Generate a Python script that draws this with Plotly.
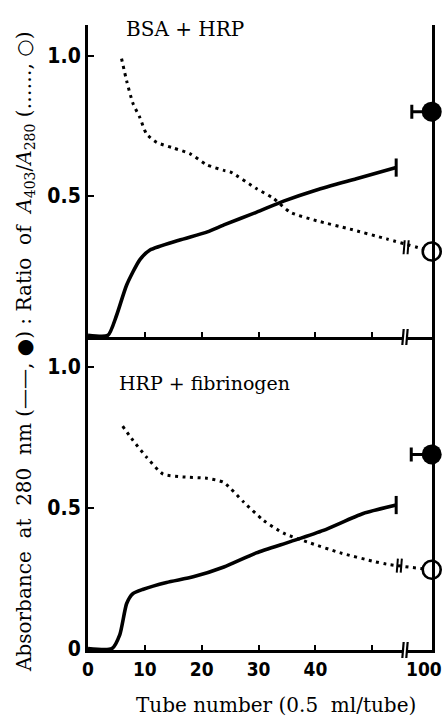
import plotly.graph_objects as go

# ---------------- data ----------------
nb = "\u00a0"
panel_labels = [f"BSA{nb}+{nb}HRP", f"HRP{nb}+{nb}fibrinogen"]

x_tick_vals = [0, 10, 20, 30, 40, 50]
x_tick_text = ["0", "10", "20", "30", "40", ""]
far_tube = 100
far_tube_label = "100"

# top panel : BSA + HRP
top_abs_tube = [0, 3.5, 5, 6.8, 9.1, 10.9, 16, 21, 23.9, 29.6, 34.4, 40.2, 47.2, 54.2]
top_abs = [0, 0, 0.07, 0.18, 0.27, 0.305, 0.34, 0.37, 0.395, 0.44, 0.48, 0.52, 0.56, 0.60]
top_ratio_tube = [5.9, 6.8, 7.9, 9.1, 10.3, 12.1, 15, 17.9, 20.9, 23.9, 25, 29.6, 32.6,
                  35.6, 40.2, 46.1, 52.5]
top_ratio = [0.99, 0.91, 0.83, 0.78, 0.72, 0.69, 0.67, 0.65, 0.61, 0.59, 0.585, 0.525,
             0.49, 0.44, 0.41, 0.38, 0.345]
top_far_abs = 0.80
top_far_ratio = 0.30
top_far_err = 3.5

# bottom panel : HRP + fibrinogen
bot_abs_tube = [0, 4.2, 5.6, 6.8, 7.9, 9.6, 13.8, 18.5, 23.9, 29.6, 35.6, 41.4, 48.4, 54.2]
bot_abs = [0, 0, 0.05, 0.16, 0.195, 0.21, 0.235, 0.255, 0.29, 0.34, 0.38, 0.42, 0.48, 0.51]
bot_ratio_tube = [6.1, 7.9, 10.3, 13.2, 16.7, 20.9, 23.9, 27.4, 30.9, 34.4, 39.1, 44.4,
                  50.2, 52.5]
bot_ratio = [0.79, 0.74, 0.68, 0.62, 0.61, 0.605, 0.59, 0.52, 0.455, 0.41, 0.375, 0.34,
             0.31, 0.30]
bot_far_abs = 0.69
bot_far_ratio = 0.28
bot_far_err = 3.6

y_tick_vals_top = [0.5, 1.0]
y_tick_text_top = ["0.5", "1.0"]
y_tick_vals_bot = [0, 0.5, 1.0]
y_tick_text_bot = ["0", "0.5", "1.0"]

# ---------------- layout helpers ----------------
X_MAX = 60.5           # right end of the compressed axis
X_FAR = 60.45          # compressed axis position of the far tube (after break)
X_BREAK = 55.4         # where the axis break is drawn


def xpos(t):
    return t if t < X_FAR else X_FAR


W, H = 448, 722
ML, MR, MT, MB = 88, 16, 25, 72
SPLIT = 0.5008

SERIF = "DejaVu Serif, Liberation Serif, serif"
SANS_B = "Liberation Sans Narrow, DejaVu Sans Condensed, Arial Narrow, sans-serif"
BLACK = "black"

fig = go.Figure()

panels = [
    dict(xa="x", ya="y", at=top_abs_tube, a=top_abs, rt=top_ratio_tube, r=top_ratio,
         fa=top_far_abs, fr=top_far_ratio, fe=top_far_err, label=panel_labels[0]),
    dict(xa="x2", ya="y2", at=bot_abs_tube, a=bot_abs, rt=bot_ratio_tube, r=bot_ratio,
         fa=bot_far_abs, fr=bot_far_ratio, fe=bot_far_err, label=panel_labels[1]),
]

for p in panels:
    # absorbance (solid)
    fig.add_trace(go.Scatter(
        x=[xpos(t) for t in p["at"]], y=p["a"], mode="lines",
        line=dict(color=BLACK, width=3.6, shape="spline", smoothing=0.6),
        xaxis=p["xa"], yaxis=p["ya"], showlegend=False, cliponaxis=False))
    # end cap of solid line
    fig.add_trace(go.Scatter(
        x=[xpos(p["at"][-1])], y=[p["a"][-1]], mode="markers",
        marker=dict(symbol="line-ns", size=13, line=dict(width=3, color=BLACK)),
        xaxis=p["xa"], yaxis=p["ya"], showlegend=False, cliponaxis=False))
    # ratio (dotted), continues to far tube
    fig.add_trace(go.Scatter(
        x=[xpos(t) for t in p["rt"]] + [xpos(far_tube)], y=p["r"] + [p["fr"]],
        mode="lines",
        line=dict(color=BLACK, width=3, dash="3px,4.5px", shape="spline", smoothing=0.6),
        xaxis=p["xa"], yaxis=p["ya"], showlegend=False, cliponaxis=False))
    # far tube filled circle (absorbance) with left error bar
    fig.add_trace(go.Scatter(
        x=[xpos(far_tube)], y=[p["fa"]], mode="markers",
        marker=dict(symbol="circle", size=20, color=BLACK),
        error_x=dict(type="data", symmetric=False, array=[0], arrayminus=[p["fe"]],
                     thickness=3, width=7, color=BLACK),
        xaxis=p["xa"], yaxis=p["ya"], showlegend=False, cliponaxis=False))
    # far tube open circle (ratio)
    fig.add_trace(go.Scatter(
        x=[xpos(far_tube)], y=[p["fr"]], mode="markers",
        marker=dict(symbol="circle", size=18, color="white",
                    line=dict(width=2.6, color=BLACK)),
        xaxis=p["xa"], yaxis=p["ya"], showlegend=False, cliponaxis=False))

# ---------------- axes ----------------
common_x = dict(range=[0, X_MAX], showgrid=False, zeroline=False, showline=True,
                linecolor=BLACK, linewidth=3, ticks="inside", ticklen=5,
                tickwidth=1.5, tickcolor=BLACK, domain=[0, 1])
common_y = dict(showgrid=False, zeroline=False, showline=True, mirror=True,
                linecolor=BLACK, linewidth=3, ticks="inside", ticklen=6,
                tickwidth=2, tickcolor=BLACK,
                tickfont=dict(family=SANS_B, size=21, color=BLACK, weight="bold"))
x_tick_font = dict(family=SANS_B, size=19, color=BLACK, weight="bold")

fig.update_layout(
    width=W, height=H,
    margin=dict(l=ML, r=MR, t=MT, b=MB, pad=0),
    paper_bgcolor="white", plot_bgcolor="white",
    showlegend=False,
    xaxis=dict(**common_x, anchor="y", showticklabels=False,
               tickvals=x_tick_vals),
    xaxis2=dict(**common_x, anchor="y2",
                tickvals=x_tick_vals, ticktext=x_tick_text,
                tickfont=x_tick_font),
    yaxis=dict(**common_y, anchor="x", domain=[SPLIT, 1], range=[-0.006, 1.11],
               tickvals=y_tick_vals_top, ticktext=y_tick_text_top),
    yaxis2=dict(**common_y, anchor="x2", domain=[0, SPLIT], range=[-0.005, 1.107],
                tickvals=y_tick_vals_bot, ticktext=y_tick_text_bot),
)

# ---------------- axis breaks ----------------
shapes = []
for yb in [SPLIT, 0.0]:
    shapes.append(dict(type="rect", xref="x", yref="paper", x0=X_BREAK, x1=X_BREAK + 0.7,
                       ysizemode="pixel", yanchor=yb, y0=-3, y1=3,
                       fillcolor="white", line=dict(width=0), layer="above"))
    for dx in [0, 0.7]:
        shapes.append(dict(type="line", xref="x", yref="paper",
                           x0=X_BREAK + dx - 0.12, x1=X_BREAK + dx + 0.12,
                           ysizemode="pixel", yanchor=yb, y0=-8, y1=8,
                           line=dict(color=BLACK, width=2.2), layer="above"))
# breaks drawn on the dotted ratio line
for p, xb in [(panels[0], 55.6), (panels[1], 54.4)]:
    yref = p["ya"]
    yv = p["fr"] + 0.015
    for dx in [0, 0.7]:
        shapes.append(dict(type="line", xref=p["xa"], yref=yref,
                           x0=xb + dx - 0.1, x1=xb + dx + 0.1,
                           ysizemode="pixel", yanchor=yv, y0=-7, y1=7,
                           line=dict(color=BLACK, width=2), layer="above"))
fig.update_layout(shapes=shapes)

# ---------------- text ----------------
ann = []
# tick label of the far tube (after the axis break)
ann.append(dict(text=far_tube_label, xref="x2", yref="paper", x=xpos(far_tube), y=0,
                xanchor="center", yanchor="top", xshift=-8, yshift=-6, showarrow=False,
                font=x_tick_font))
ann.append(dict(text=panels[0]["label"], xref="x", yref="y", x=6.3, y=1.097,
                xanchor="left", yanchor="middle", showarrow=False,
                font=dict(family=SERIF, size=20, color=BLACK)))
ann.append(dict(text=panels[1]["label"], xref="x2", yref="y2", x=5.1, y=0.943,
                xanchor="left", yanchor="middle", showarrow=False,
                font=dict(family=SERIF, size=19, color=BLACK)))
ytitle = (f"Absorbance{nb}{nb}at{nb}{nb}280{nb}{nb}nm{nb}(——,{nb}●){nb}:{nb}Ratio{nb}{nb}of{nb}{nb}"
          f"<i>A</i><sub>403</sub>/<i>A</i><sub>280</sub>{nb}(……,{nb}○)")
ann.append(dict(text=ytitle, xref="paper", yref="paper",
                x=(25 - ML) / (W - ML - MR), y=(H - MB - 352) / (H - MT - MB),
                xanchor="center", yanchor="middle", textangle=-90, showarrow=False,
                font=dict(family=SERIF, size=20, color=BLACK)))
ann.append(dict(text=f"Tube{nb}number{nb}(0.5{nb}{nb}ml/tube)", xref="paper", yref="paper",
                x=(276 - ML) / (W - ML - MR), y=(H - MB - 705) / (H - MT - MB),
                xanchor="center", yanchor="middle", showarrow=False,
                font=dict(family=SERIF, size=20, color=BLACK)))
fig.update_layout(annotations=ann)

fig.write_html("out.html")
